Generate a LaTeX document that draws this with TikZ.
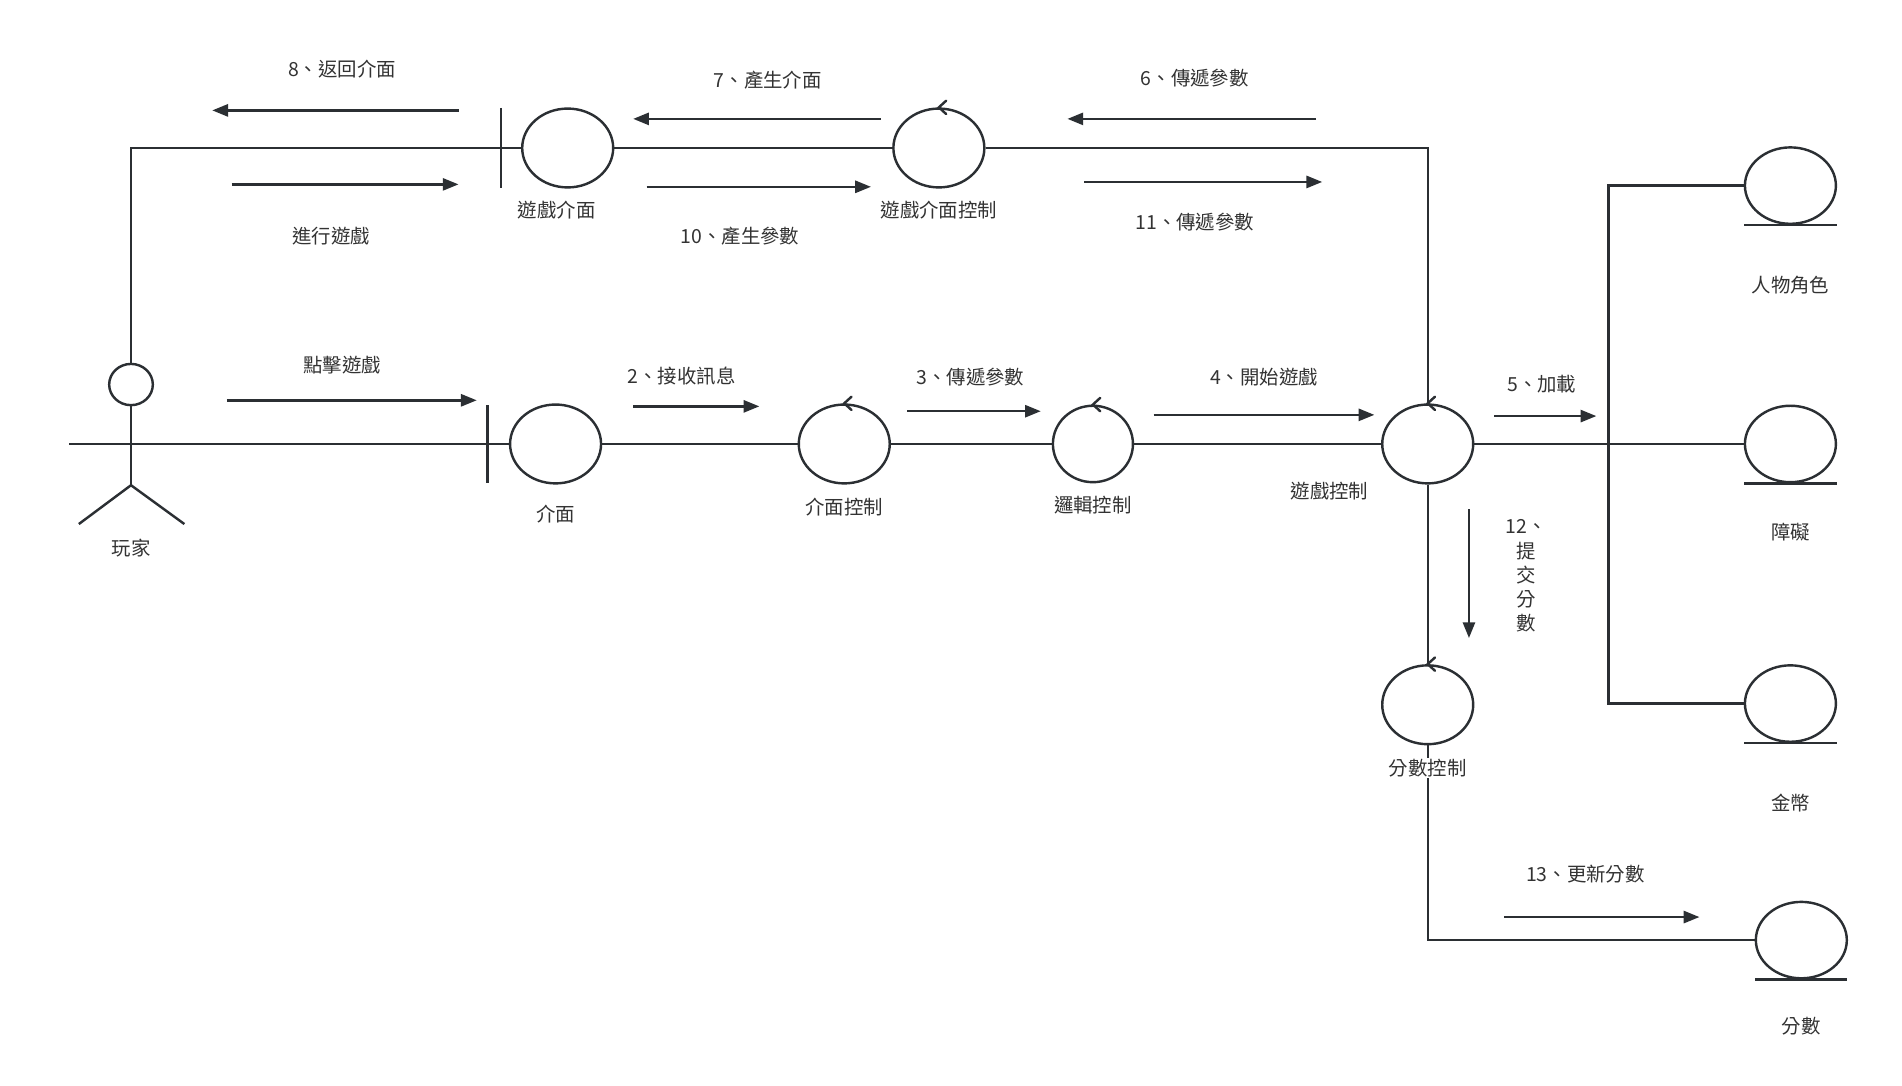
\documentclass[tikz,border=0pt]{standalone}
\usepackage{fontspec}
\newfontfamily\cjk{Noto Sans CJK TC}
\usetikzlibrary{shapes.geometric,arrows.meta}
\definecolor{ln}{HTML}{2B2F33}
\definecolor{tx}{HTML}{333333}
\newcommand\ctlmark[1]{\draw[wire,line cap=round] (#1.north) ++(6,-5.5) -- (#1.north) -- ++(6,5.5);}
\newcommand\entline[1]{\draw[wire] (#1.south) ++(-38,0) -- ++(76,0);}
\begin{document}
\begin{tikzpicture}[x=1pt,y=-1pt,
  every node/.style={font=\cjk\fontsize{16pt}{20pt}\selectfont, text=tx},
  wire/.style={draw=ln, line width=2pt},
  msg/.style={draw=ln, line width=2pt, -{Triangle[length=13pt,width=10pt]}},
  obj/.style={ellipse, draw=ln, line width=2pt, minimum width=75pt, minimum height=65pt, inner sep=0pt},
  lbl/.style={inner sep=1pt},
]
\useasboundingbox[fill=white] (0,0) rectangle (1568,895);

% ---- objects ----
\node[ellipse, draw=ln, line width=2pt, minimum width=36pt, minimum height=34pt, inner sep=0pt] (head) at (108,317) {};
\node[obj] (ui) at (458,366) {};
\node[obj] (uictl) at (696,366) {};
\node[obj, minimum width=66pt, minimum height=63pt] (logic) at (901,366) {};
\node[obj] (game) at (1177,366) {};
\node[obj] (gui) at (468,122) {};
\node[obj] (guictl) at (774,122) {};
\node[obj] (scorectl) at (1177,581) {};
\node[obj, minimum height=63pt] (role) at (1476,153) {};
\node[obj, minimum height=63pt] (obst) at (1476,366) {};
\node[obj, minimum height=63pt] (coin) at (1476,580) {};
\node[obj, minimum height=63pt] (score) at (1485,775) {};

% control marks and entity lines
\ctlmark{uictl}
\ctlmark{logic}
\ctlmark{game}
\ctlmark{guictl}
\ctlmark{scorectl}
\entline{role}
\entline{obst}
\entline{coin}
\entline{score}

% actor body
\coordinate (hip) at (108,400);
\coordinate (armL) at (57,366);
\coordinate (armR) at (160,366);
\coordinate (legL) at (65,432);
\coordinate (legR) at (152,432);
\draw[wire] (head.south) -- (hip);
\draw[wire] (armL) -- (armR);
\draw[wire] (hip) -- (legL);
\draw[wire] (hip) -- (legR);

% boundary bars
\coordinate (uibar) at (402,366);
\coordinate (guibar) at (413,122);
\draw[wire] (uibar) ++(0,-32) -- ++(0,64);
\draw[wire] (guibar) ++(0,-33) -- ++(0,66);

% ---- connectors ----
\draw[wire] (head.north) |- (guibar);
\draw[wire] (guibar) -- (gui.west);
\draw[wire] (gui.east) -- (guictl.west);
\draw[wire] (guictl.east) -| (game.north);
\draw[wire] (armR) -- (uibar);
\draw[wire] (uibar) -- (ui.west);
\draw[wire] (ui.east) -- (uictl.west);
\draw[wire] (uictl.east) -- (logic.west);
\draw[wire] (logic.east) -- (game.west);
\draw[wire] (game.east) -- (obst.west);
\coordinate (jt) at (1326,153);
\draw[wire] (role.west) -- (jt) |- (coin.west);
\draw[wire] (game.south) -- (scorectl.north);
\draw[wire] (scorectl.south) |- (score.west);

% ---- labels ----
\node[lbl] (l_player) at (108,452) {玩家};
\node[lbl] (l_ui) at (458,424) {介面};
\node[lbl] (l_uictl) at (696,418) {介面控制};
\node[lbl] (l_logic) at (901,416) {邏輯控制};
\node[lbl] (l_game) at (1096,405) {遊戲控制};
\node[lbl] (l_gui) at (459,173) {遊戲介面};
\node[lbl] (l_guictl) at (774,173) {遊戲介面控制};
\node[lbl] (l_role) at (1476,235) {人物角色};
\node[lbl] (l_obst) at (1476,439) {障礙};
\node[lbl] (l_coin) at (1476,662) {金幣};
\node[lbl, fill=white] (l_scorectl) at (1177,633) {分數控制};
\node[lbl] (l_score) at (1485,846) {分數};

% ---- messages ----
\coordinate (m8a) at (378,91);  \coordinate (m8b) at (175,91);
\coordinate (m1a) at (191,152); \coordinate (m1b) at (378,152);
\coordinate (m7a) at (726,98);  \coordinate (m7b) at (522,98);
\coordinate (m10a) at (533,154); \coordinate (m10b) at (718,154);
\coordinate (m6a) at (1085,98); \coordinate (m6b) at (880,98);
\coordinate (m11a) at (894,150); \coordinate (m11b) at (1090,150);
\coordinate (m0a) at (187,330); \coordinate (m0b) at (393,330);
\coordinate (m2a) at (522,335); \coordinate (m2b) at (626,335);
\coordinate (m3a) at (748,339); \coordinate (m3b) at (858,339);
\coordinate (m4a) at (951,342); \coordinate (m4b) at (1133,342);
\coordinate (m5a) at (1232,343); \coordinate (m5b) at (1316,343);
\coordinate (m12a) at (1211,420); \coordinate (m12b) at (1211,526);
\coordinate (m13a) at (1240,756); \coordinate (m13b) at (1401,756);
\draw[msg] (m8a) -- (m8b);
\draw[msg] (m1a) -- (m1b);
\draw[msg] (m7a) -- (m7b);
\draw[msg] (m10a) -- (m10b);
\draw[msg] (m6a) -- (m6b);
\draw[msg] (m11a) -- (m11b);
\draw[msg] (m0a) -- (m0b);
\draw[msg] (m2a) -- (m2b);
\draw[msg] (m3a) -- (m3b);
\draw[msg] (m4a) -- (m4b);
\draw[msg] (m5a) -- (m5b);
\draw[msg] (m12a) -- (m12b);
\draw[msg] (m13a) -- (m13b);

\node[lbl] (t8) at (282,57) {8、返回介面};
\node[lbl] (t1) at (273,195) {進行遊戲};
\node[lbl] (t7) at (633,66) {7、產生介面};
\node[lbl] (t10) at (610,195) {10、產生參數};
\node[lbl] (t6) at (985,64) {6、傳遞參數};
\node[lbl] (t11) at (985,183) {11、傳遞參數};
\node[lbl] (t0) at (282,301) {點擊遊戲};
\node[lbl] (t2) at (562,310) {2、接收訊息};
\node[lbl] (t3) at (800,311) {3、傳遞參數};
\node[lbl] (t4) at (1042,311) {4、開始遊戲};
\node[lbl] (t5) at (1271,317) {5、加載};
\node[lbl] (t13) at (1307,721) {13、更新分數};
\node[lbl, align=center] (t12) at (1258,475) {12、\\提\\交\\分\\數};
\end{tikzpicture}
\end{document}
